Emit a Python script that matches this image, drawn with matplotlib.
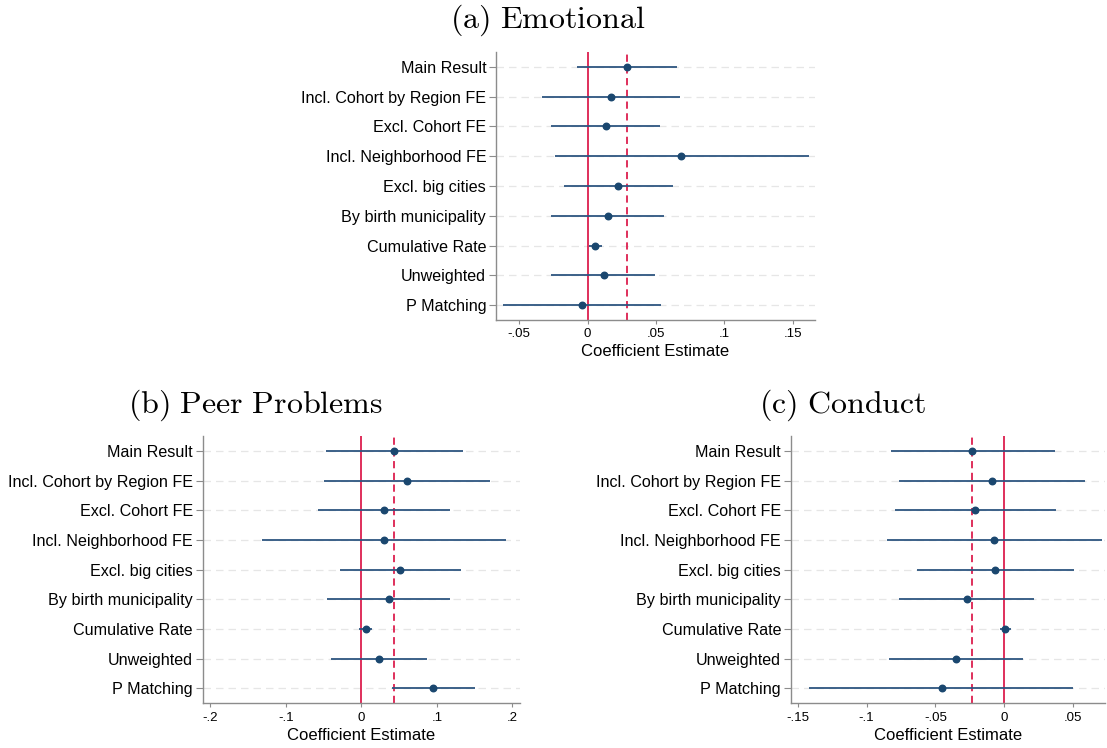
import numpy as np
import matplotlib
matplotlib.use("Agg")
import matplotlib.pyplot as plt

plt.rcParams['font.family'] = ['Liberation Sans', 'DejaVu Sans']
plt.rcParams['mathtext.fontset'] = 'cm'

specs = ['Main Result', 'Incl. Cohort by Region FE', 'Excl. Cohort FE',
         'Incl. Neighborhood FE', 'Excl. big cities', 'By birth municipality',
         'Cumulative Rate', 'Unweighted', 'P Matching']

# (a) Emotional
emo_est = [0.0285, 0.0168, 0.0132, 0.0686, 0.0224, 0.0149, 0.0054, 0.0117, -0.0039]
emo_lo = [-0.008, -0.0337, -0.0268, -0.0239, -0.0171, -0.0264, 0.001, -0.0264, -0.0617]
emo_hi = [0.065, 0.0676, 0.0532, 0.1615, 0.0622, 0.0556, 0.0102, 0.0495, 0.0537]
emo_ticks = [-0.05, 0, 0.05, 0.1, 0.15]
emo_labels = ['-.05', '0', '.05', '.1', '.15']

# (b) Peer Problems
peer_est = [0.043, 0.061, 0.030, 0.030, 0.051, 0.036, 0.0057, 0.0228, 0.095]
peer_lo = [-0.047, -0.049, -0.0575, -0.131, -0.028, -0.045, -0.0026, -0.040, 0.040]
peer_hi = [0.134, 0.171, 0.118, 0.192, 0.132, 0.117, 0.0145, 0.087, 0.151]
peer_ticks = [-0.2, -0.1, 0, 0.1, 0.2]
peer_labels = ['-.2', '-.1', '0', '.1', '.2']

# (c) Conduct
cond_est = [-0.0234, -0.0092, -0.021, -0.0072, -0.0068, -0.0273, 0.0005, -0.0353, -0.0456]
cond_lo = [-0.0826, -0.0766, -0.0797, -0.085, -0.0635, -0.0761, -0.0034, -0.084, -0.1415]
cond_hi = [0.0365, 0.0582, 0.0377, 0.0708, 0.0502, 0.0217, 0.0048, 0.0138, 0.0497]
cond_ticks = [-0.15, -0.1, -0.05, 0, 0.05]
cond_labels = ['-.15', '-.1', '-.05', '0', '.05']

navy = '#1a476f'
red = '#dc1f4e'
grey = '#8c8c8c'


def coefplot(ax, est, lo, hi, ticks, labels, xlim):
    y = np.arange(len(specs))
    for yi in y:
        ax.axhline(yi, color='#e6e6e6', lw=0.9, ls=(0, (6, 4)), zorder=0)
    ax.axvline(0, color=red, lw=1.3, zorder=1)
    ax.axvline(est[0], color=red, lw=1.3, ls=(0, (4, 2.5)), zorder=1)
    ax.hlines(y, lo, hi, color='#2d5580', lw=1.3, zorder=2)
    ax.scatter(est, y, s=22, color=navy, zorder=3)
    ax.set_ylim(len(specs) - 0.5, -0.5)
    ax.set_xlim(*xlim)
    ax.set_yticks(y)
    ax.set_yticklabels(specs, fontsize=11.6)
    ax.set_xticks(ticks)
    ax.set_xticklabels(labels, fontsize=9.5)
    ax.set_xlabel('Coefficient Estimate', fontsize=12, labelpad=3)
    for s in ['top', 'right']:
        ax.spines[s].set_visible(False)
    for s in ['left', 'bottom']:
        ax.spines[s].set_color(grey)
        ax.spines[s].set_linewidth(1.0)
    ax.tick_params(axis='y', length=5, color=grey, pad=2)
    ax.tick_params(axis='x', length=3, color=grey, pad=3)


fig = plt.figure(figsize=(11.07, 7.48), dpi=100)

ax_a = fig.add_axes([0.448, 0.5722, 0.288, 0.3583])
coefplot(ax_a, emo_est, emo_lo, emo_hi, emo_ticks, emo_labels, (-0.067, 0.166))

ax_b = fig.add_axes([0.1831, 0.0597, 0.2866, 0.3574])
coefplot(ax_b, peer_est, peer_lo, peer_hi, peer_ticks, peer_labels, (-0.21, 0.21))

ax_c = fig.add_axes([0.7143, 0.0597, 0.2839, 0.3574])
coefplot(ax_c, cond_est, cond_lo, cond_hi, cond_ticks, cond_labels, (-0.155, 0.073))

fig.text(548 / 1107, 1 - 20 / 748, r'$\mathrm{(a)\ Emotional}$', fontsize=23,
         ha='center', va='center')
fig.text(255 / 1107, 1 - 405 / 748, r'$\mathrm{(b)\ Peer\ Problems}$', fontsize=23,
         ha='center', va='center')
fig.text(843 / 1107, 1 - 405 / 748, r'$\mathrm{(c)\ Conduct}$', fontsize=23,
         ha='center', va='center')

fig.savefig('out.png', dpi=100)
